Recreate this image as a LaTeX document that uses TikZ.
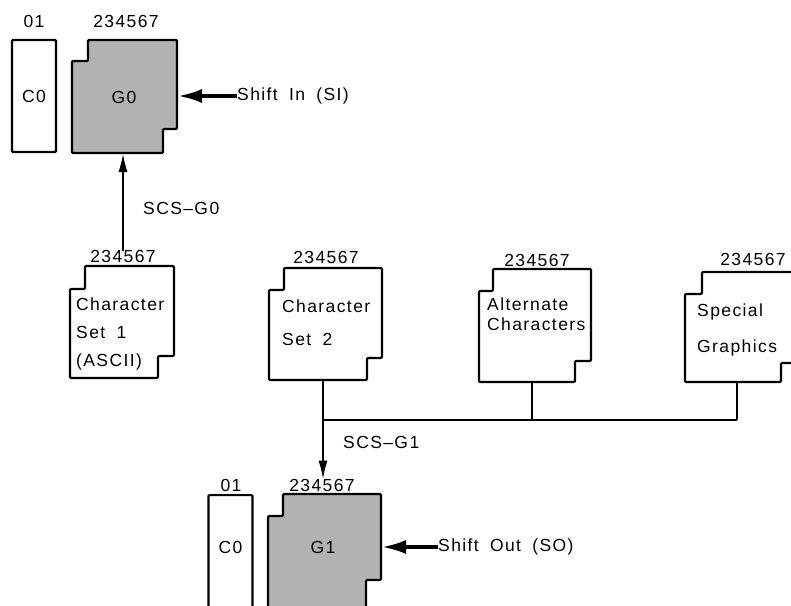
\documentclass[tikz,border=0pt]{standalone}
\usepackage{fontspec}
\setmainfont{Liberation Sans}[LetterSpace=8,WordSpace=1.8]
\usetikzlibrary{arrows.meta}
\begin{document}
\begin{tikzpicture}[x=1pt,y=-1pt,
  font=\fontsize{17.5}{20}\selectfont,
  shapeline/.style={line width=2.2pt, line join=round, rounded corners=1pt},
  shaded/.style={shapeline, fill=black!30},
  plainbox/.style={shapeline, fill=white},
  area/.style={inner sep=0pt, outer sep=0pt, draw=none, anchor=north west},
  cbox/.style={draw, line width=2.2pt, rounded corners=1pt, inner sep=0pt, minimum width=44pt},
  conn/.style={line width=1.1pt},
  thinarrow/.style={conn, -{Latex[length=18pt,width=9pt]}},
  bigarrow/.style={line width=4.2pt, -{Latex[length=25pt,width=14pt]}},
  lab/.style={inner sep=0pt, anchor=base},
  txt/.style={inner sep=0pt, anchor=base west}]
\useasboundingbox (0,0) rectangle (791,605);
\clip (0,0) rectangle (791,605);

% ---------- top group ----------
\node[cbox, minimum height=112pt] (c0a) at (34,96) {C0};
\node[lab] (c0alab) at (34,27) {01};
\draw[shaded] (72,61) -- (88,61) -- (88,40) -- (177,40) -- (177,129) -- (163,129) -- (163,153) -- (72,153) -- cycle;
\node[area, minimum width=105pt, minimum height=113pt] (g0) at (72,40) {};
\node at (124,97) (g0txt) {G0};
\node[lab] (g0lab) at (126,27) {234567};
\node[inner sep=0pt, anchor=west] (si) at (237,96) {Shift In (SI)};
\draw[bigarrow] (si.west) -- (g0.east |- si.west);

% ---------- character set 1 ----------
\draw[plainbox] (70,289) -- (85,289) -- (85,266) -- (174,266) -- (174,356) -- (158,356) -- (158,378) -- (70,378) -- cycle;
\node[area, minimum width=104pt, minimum height=112pt] (cs1) at (70,266) {};
\node[lab] (cs1lab) at (123,262) {234567};
\node[txt] (cs1a) at (76,310) {Character};
\node[txt] (cs1b) at (76,338) {Set 1};
\node[txt] (cs1c) at (76,366) {(ASCII)};
\draw[thinarrow] ([yshift=-1pt]cs1lab.north) -- ([yshift=-1pt]cs1lab.north |- g0.south);
\node[txt] (scsg0) at (143,214) {SCS–G0};

% ---------- character set 2 ----------
\draw[plainbox] (269,290) -- (284,290) -- (284,268) -- (382,268) -- (382,358) -- (367,358) -- (367,380) -- (269,380) -- cycle;
\node[area, minimum width=108pt, minimum height=112pt] (cs2) at (269,268) {};
\node[lab] (cs2lab) at (326,263) {234567};
\node[txt] (cs2a) at (282,312) {Character};
\node[txt] (cs2b) at (282,345) {Set 2};

% ---------- alternate characters ----------
\draw[plainbox] (479,291) -- (493,291) -- (493,269) -- (591,269) -- (591,361) -- (575,361) -- (575,382) -- (479,382) -- cycle;
\node[area, minimum width=106pt, minimum height=113pt] (alt) at (479,269) {};
\node[lab] (altlab) at (537,266) {234567};
\node[txt] (alta) at (487,310) {Alternate};
\node[txt] (altb) at (487,330) {Characters};

% ---------- special graphics ----------
\draw[plainbox] (685,294) -- (702,294) -- (702,272) -- (797,272) -- (797,363) -- (781,363) -- (781,382) -- (685,382) -- cycle;
\node[area, minimum width=104pt, minimum height=110pt] (spec) at (685,272) {};
\node[lab] (speclab) at (753,265) {234567};
\node[txt] (speca) at (697,316) {Special};
\node[txt] (specb) at (697,352) {Graphics};

% ---------- bus ----------
\coordinate (bus) at (0,420);
\draw[conn] (alt.south) -- (alt.south |- bus);
\draw[conn] (spec.south) -- (spec.south |- bus);
\draw[conn] (cs2.south |- bus) -- (spec.south |- bus);

% ---------- bottom group ----------
\node[cbox, minimum height=130pt, anchor=north] (c0b) at (230.5,494) {};
\node (c0btxt) at (230.5,547) {C0};
\node[lab] (c0blab) at (231,491) {01};
\draw[shaded] (268,516) -- (283,516) -- (283,494) -- (381,494) -- (381,580) -- (366,580) -- (366,620) -- (268,620) -- cycle;
\node[area, minimum width=113pt, minimum height=126pt] (g1) at (268,494) {};
\node (g1txt) at (323,547) {G1};
\node[lab] (g1lab) at (322,491) {234567};
\draw[thinarrow] (cs2.south) -- (cs2.south |- g1lab.north);
\node[txt] (scsg1) at (343,448) {SCS–G1};
\node[inner sep=0pt, anchor=west] (so) at (438,547) {Shift Out (SO)};
\draw[bigarrow] (so.west) -- (g1.east |- so.west);
\end{tikzpicture}
\end{document}
